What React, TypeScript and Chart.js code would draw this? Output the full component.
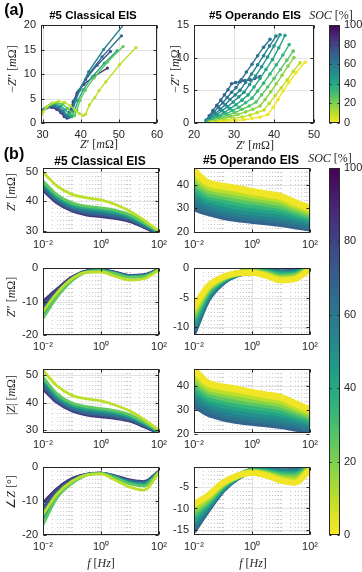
import React, { useEffect, useRef } from "react";
import { Chart, registerables } from "chart.js";

Chart.register(...registerables);

// ---------------- data ----------------
const FREQ_HZ = [0.01, 0.03, 0.1, 0.3, 1, 3, 10, 30, 100];
const FREQ_TICKS = [0.01, 1, 100];
const FREQ_TICK_LABELS = ["10⁻²", "10⁰", "10²"];
const SOC_TICKS = [0, 20, 40, 60, 80, 100];

const CL_NYQ_X_TICKS = [30, 40, 50, 60];
const CL_NYQ_Y_TICKS = [0, 5, 10, 15, 20];
const OP_NYQ_X_TICKS = [20, 30, 40, 50];
const OP_NYQ_Y_TICKS = [0, 5, 10, 15];

// Classical EIS (SOC levels in %)
const CL_SOC = [10, 25, 40, 55, 65, 75, 85];
const CL_NYQ_RE = [
  [29.4, 30.1, 31.2, 32.6, 34.2, 35.8, 37.3, 38.6, 39.7, 40.6, 41.3, 42.3, 43.7, 44.8, 46.6, 50.2, 54.5],
  [29.2, 29.9, 31.0, 32.3, 33.8, 35.3, 36.6, 37.7, 38.4, 39.0, 39.8, 41.2, 43.5, 47.0, 51.1],
  [29.1, 29.7, 30.7, 32.0, 33.4, 34.8, 36.0, 37.0, 37.7, 38.4, 39.3, 40.7, 43.0, 46.2, 49.6],
  [29.0, 29.6, 30.5, 31.7, 33.1, 34.4, 35.5, 36.4, 37.1, 37.8, 38.7, 39.8, 42.1, 46.0, 51.3],
  [29.0, 29.5, 30.4, 31.5, 32.8, 34.1, 35.2, 36.1, 36.8, 37.5, 38.4, 39.6, 41.8, 45.6, 50.7],
  [28.9, 29.4, 30.2, 31.3, 32.6, 33.9, 35.0, 35.9, 36.6, 37.3, 38.2, 39.3, 41.3, 44.3, 47.8],
  [28.9, 29.3, 30.1, 31.1, 32.4, 33.7, 34.8, 35.7, 36.4, 37.1, 38.0, 39.0, 40.8, 43.7, 47.0],
];
const CL_NYQ_IM = [
  [0.8, 2.2, 3.4, 4.1, 4.4, 4.2, 3.5, 2.6, 1.9, 1.5, 1.8, 3.7, 5.2, 6.6, 8.4, 11.9, 15.4],
  [0.8, 2.1, 3.2, 3.9, 4.1, 3.8, 3.0, 2.0, 1.5, 2.6, 4.6, 6.7, 9.2, 12.4, 15.6],
  [0.8, 2.0, 3.0, 3.7, 3.9, 3.5, 2.7, 1.8, 1.3, 2.5, 4.6, 6.8, 9.4, 12.2, 14.8],
  [0.8, 1.9, 2.9, 3.5, 3.7, 3.3, 2.5, 1.6, 1.2, 2.4, 4.6, 6.8, 10.5, 15.0, 20.1],
  [0.9, 1.9, 2.8, 3.3, 3.5, 3.1, 2.3, 1.5, 1.1, 2.4, 4.5, 6.6, 9.6, 13.5, 17.8],
  [0.9, 1.8, 2.7, 3.2, 3.3, 2.9, 2.2, 1.4, 1.1, 2.4, 4.5, 6.4, 8.9, 11.8, 14.6],
  [0.9, 1.8, 2.6, 3.1, 3.2, 2.8, 2.1, 1.3, 1.0, 2.3, 4.3, 6.0, 7.9, 9.6, 11.2],
];
const CL_ZRE = [
  [50.0, 45.3, 42.4, 41.3, 40.5, 39.0, 36.6, 33.6, 29.9],
  [47.0, 42.3, 39.5, 38.4, 37.8, 37.0, 35.4, 32.8, 29.6],
  [46.3, 41.6, 38.8, 37.7, 37.1, 36.3, 34.8, 32.4, 29.4],
  [45.6, 41.0, 38.2, 37.0, 36.4, 35.7, 34.3, 32.0, 29.2],
  [44.9, 40.4, 37.6, 36.3, 35.7, 35.1, 33.8, 31.7, 29.0],
  [44.3, 39.9, 37.1, 35.8, 35.2, 34.6, 33.4, 31.4, 28.9],
  [43.8, 39.5, 36.7, 35.4, 34.8, 34.2, 33.1, 31.1, 28.8],
];
const CL_ZIM = [
  [-13.0, -7.5, -3.2, -1.3, -1.2, -2.4, -3.6, -3.2, -0.6],
  [-15.0, -8.8, -3.8, -1.3, -0.9, -1.7, -2.8, -2.6, -0.5],
  [-14.5, -8.5, -3.6, -1.2, -0.8, -1.6, -2.6, -2.4, -0.5],
  [-13.5, -8.0, -3.4, -1.1, -0.7, -1.5, -2.5, -2.3, -0.4],
  [-12.2, -7.4, -3.1, -1.0, -0.7, -1.4, -2.4, -2.2, -0.4],
  [-11.0, -6.8, -2.9, -0.9, -0.6, -1.3, -2.3, -2.1, -0.3],
  [-10.0, -6.3, -2.7, -0.9, -0.6, -1.2, -2.2, -2.0, -0.3],
];
const CL_ZMAG = [
  [51.7, 46.1, 42.6, 41.4, 40.6, 39.1, 36.9, 33.8, 29.9],
  [49.3, 43.3, 39.8, 38.5, 37.8, 37.0, 35.5, 32.9, 29.6],
  [48.5, 42.5, 39.1, 37.8, 37.1, 36.3, 34.9, 32.5, 29.4],
  [47.5, 41.8, 38.5, 37.1, 36.4, 35.7, 34.4, 32.1, 29.2],
  [46.5, 41.1, 37.8, 36.4, 35.7, 35.1, 33.9, 31.8, 29.0],
  [45.6, 40.5, 37.3, 35.9, 35.2, 34.6, 33.5, 31.5, 28.9],
  [44.9, 40.0, 36.9, 35.5, 34.8, 34.2, 33.2, 31.2, 28.8],
];
const CL_PHASE = [
  [-14.0, -8.0, -4.2, -2.4, -2.0, -3.8, -5.9, -6.8, -1.6],
  [-17.0, -9.2, -4.8, -2.5, -1.9, -3.2, -5.0, -5.6, -1.5],
  [-16.2, -8.8, -4.6, -2.4, -1.9, -3.0, -4.7, -5.2, -1.4],
  [-15.0, -8.3, -4.3, -2.3, -1.8, -2.9, -4.4, -4.9, -1.4],
  [-13.5, -7.6, -4.0, -2.3, -1.8, -2.8, -4.2, -4.6, -1.3],
  [-12.0, -7.0, -3.7, -2.2, -1.8, -2.7, -4.0, -4.4, -1.3],
  [-10.5, -6.4, -3.4, -2.2, -1.8, -2.6, -3.8, -4.3, -1.2],
];

// Operando EIS (SOC levels in %)
const OP_SOC = [2, 10, 18, 26, 34, 42, 50, 56, 62, 68];
const OP_NYQ_RE = [
  [24.6, 26.5, 28.5, 30.5, 32.5, 34.5, 36.5, 38.5, 39.8, 41.0, 42.3, 43.7, 45.5, 47.75],
  [24.3, 26.0, 28.0, 30.0, 32.0, 34.0, 35.8, 37.5, 38.8, 40.3, 41.8, 43.3, 44.8, 46.5],
  [24.0, 25.5, 27.3, 29.2, 31.0, 32.9, 34.7, 36.5, 37.8, 39.2, 40.6, 42.0, 43.5, 45.0],
  [23.8, 25.2, 26.8, 28.5, 30.2, 32.0, 33.8, 35.5, 36.9, 38.4, 40.0, 41.6, 43.2, 44.8],
  [23.6, 24.9, 26.4, 28.0, 29.6, 31.2, 32.9, 34.5, 35.9, 37.4, 39.0, 40.6, 42.2, 43.8],
  [23.4, 24.6, 26.0, 27.5, 29.0, 30.5, 32.0, 33.5, 35.0, 36.5, 38.0, 39.6, 41.2, 42.75],
  [23.3, 24.4, 25.7, 27.0, 28.4, 29.8, 31.2, 32.5, 33.9, 35.4, 36.9, 38.4, 40.0, 41.5],
  [23.2, 24.2, 25.4, 26.6, 27.8, 29.0, 30.3, 31.5, 32.9, 34.4, 35.9, 37.4, 38.9, 40.5],
  [23.1, 24.0, 25.0, 26.1, 27.2, 28.3, 29.4, 30.5, 31.8, 33.1, 34.5, 35.9, 37.4, 39.0],
  [23.0, 23.8, 24.7, 25.7, 26.7, 27.6, 28.5, 29.4, 30.4, 31.5, 32.7, 34.0, 35.2, 36.5],
];
const OP_NYQ_IM = [
  [0.1, 0.2, 0.3, 0.4, 0.5, 0.7, 0.9, 1.3, 2.4, 3.6, 4.9, 6.2, 7.7, 9.3],
  [0.1, 0.3, 0.5, 0.7, 0.9, 1.2, 1.6, 2.0, 3.0, 4.2, 5.4, 6.6, 7.9, 9.2],
  [0.2, 0.4, 0.7, 1.0, 1.3, 1.7, 2.1, 2.6, 3.6, 4.8, 6.0, 7.3, 8.7, 10.0],
  [0.2, 0.5, 0.8, 1.2, 1.6, 2.1, 2.6, 3.2, 4.3, 5.5, 6.8, 8.2, 9.6, 11.0],
  [0.3, 0.6, 1.0, 1.4, 1.9, 2.4, 3.1, 3.8, 4.9, 6.1, 7.5, 8.9, 10.4, 12.0],
  [0.3, 0.7, 1.1, 1.6, 2.2, 2.8, 3.5, 4.3, 5.5, 6.8, 8.2, 9.7, 11.5, 13.4],
  [0.3, 0.8, 1.3, 1.9, 2.5, 3.2, 4.0, 4.7, 5.9, 7.2, 8.6, 10.1, 11.8, 13.5],
  [0.4, 0.9, 1.5, 2.1, 2.8, 3.6, 4.3, 5.0, 6.2, 7.5, 8.9, 10.3, 11.8, 13.3],
  [0.4, 1.0, 1.7, 2.4, 3.1, 3.9, 4.7, 5.4, 6.6, 7.8, 9.0, 10.3, 11.6, 12.8],
  [0.4, 1.1, 1.9, 2.7, 3.5, 4.3, 5.1, 6.0, 6.2, 6.3, 6.5, 6.6, 6.8, 7.1],
];
const OP_ZRE = [
  [46.0, 41.0, 39.5, 38.5, 37.2, 36.2, 35.0, 32.5, 30.0],
  [44.3, 39.6, 38.0, 37.0, 35.8, 34.8, 33.7, 31.4, 29.0],
  [42.6, 38.2, 36.6, 35.5, 34.4, 33.5, 32.4, 30.3, 28.1],
  [40.9, 36.8, 35.2, 34.0, 33.0, 32.2, 31.1, 29.2, 27.2],
  [39.2, 35.4, 33.7, 32.5, 31.5, 30.8, 29.8, 28.1, 26.3],
  [37.4, 34.0, 32.2, 31.0, 30.0, 29.4, 28.5, 27.0, 25.3],
  [35.6, 32.6, 30.7, 29.5, 28.5, 27.9, 27.1, 25.9, 24.4],
  [33.8, 31.2, 29.3, 28.1, 27.2, 26.6, 25.9, 24.8, 23.5],
  [32.0, 29.7, 27.9, 26.8, 26.0, 25.4, 24.7, 23.6, 22.5],
  [30.2, 28.2, 26.6, 25.6, 24.8, 24.2, 23.5, 22.5, 21.5],
];
const OP_ZIM = [
  [-6.6, -3.1, -1.5, -0.9, -0.8, -1.3, -2.1, -1.9, -0.2],
  [-7.1, -3.4, -1.6, -0.9, -0.7, -1.2, -1.9, -1.7, -0.2],
  [-7.6, -3.6, -1.7, -0.9, -0.7, -1.0, -1.7, -1.5, -0.1],
  [-8.1, -3.9, -1.8, -0.9, -0.6, -0.9, -1.5, -1.3, -0.1],
  [-8.6, -4.1, -1.9, -0.9, -0.6, -0.8, -1.3, -1.2, 0.0],
  [-9.1, -4.4, -2.0, -1.0, -0.6, -0.7, -1.1, -1.0, 0.0],
  [-9.6, -4.7, -2.1, -1.0, -0.6, -0.6, -1.0, -0.9, 0.0],
  [-10.0, -4.9, -2.2, -1.0, -0.6, -0.6, -0.9, -0.8, 0.1],
  [-10.4, -5.1, -2.3, -1.1, -0.6, -0.5, -0.8, -0.7, 0.1],
  [-10.8, -5.3, -2.4, -1.1, -0.6, -0.5, -0.7, -0.6, 0.1],
];
const OP_ZMAG = [
  [46.5, 41.1, 39.5, 38.5, 37.2, 36.2, 35.1, 32.6, 30.0],
  [44.9, 39.7, 38.0, 37.0, 35.8, 34.8, 33.8, 31.4, 29.0],
  [43.3, 38.4, 36.6, 35.5, 34.4, 33.5, 32.4, 30.3, 28.1],
  [41.7, 37.0, 35.2, 34.0, 33.0, 32.2, 31.1, 29.2, 27.2],
  [40.1, 35.6, 33.8, 32.5, 31.5, 30.8, 29.8, 28.1, 26.3],
  [38.5, 34.3, 32.3, 31.0, 30.0, 29.4, 28.5, 27.0, 25.3],
  [36.9, 32.9, 30.8, 29.5, 28.5, 27.9, 27.1, 25.9, 24.4],
  [35.3, 31.6, 29.4, 28.1, 27.2, 26.6, 25.9, 24.8, 23.5],
  [33.7, 30.1, 28.0, 26.8, 26.0, 25.4, 24.7, 23.6, 22.5],
  [32.1, 28.7, 26.7, 25.6, 24.8, 24.2, 23.5, 22.5, 21.5],
];
const OP_PHASE = [
  [-9.0, -7.0, -4.0, -2.5, -1.8, -2.4, -3.6, -4.1, -1.0],
  [-9.7, -7.4, -4.2, -2.6, -1.7, -2.2, -3.2, -3.6, -0.9],
  [-10.4, -7.8, -4.4, -2.6, -1.6, -2.0, -2.9, -3.1, -0.8],
  [-11.1, -8.2, -4.6, -2.7, -1.5, -1.8, -2.6, -2.7, -0.7],
  [-11.8, -8.6, -4.8, -2.7, -1.5, -1.7, -2.3, -2.4, -0.6],
  [-12.5, -9.0, -5.0, -2.8, -1.4, -1.5, -2.0, -2.1, -0.6],
  [-13.2, -9.4, -5.2, -2.8, -1.4, -1.4, -1.8, -1.8, -0.5],
  [-13.8, -9.7, -5.4, -2.9, -1.4, -1.3, -1.6, -1.6, -0.5],
  [-14.4, -10.0, -5.5, -2.9, -1.3, -1.2, -1.5, -1.4, -0.4],
  [-15.0, -10.3, -5.7, -3.0, -1.3, -1.2, -1.4, -1.3, -0.4],
];

// ---------------- styling helpers ----------------
const VIRIDIS = ["#440154", "#482878", "#3e4989", "#31688e", "#26828e", "#1f9e89", "#35b779", "#6ece58", "#b5de2b", "#fde725"];
function hexRgb(h: string) {
  return [parseInt(h.slice(1, 3), 16), parseInt(h.slice(3, 5), 16), parseInt(h.slice(5, 7), 16)];
}
function socColor(soc: number) {
  const t = Math.max(0, Math.min(1, 1 - soc / 100)) * (VIRIDIS.length - 1);
  const i = Math.min(Math.floor(t), VIRIDIS.length - 2);
  const f = t - i;
  const a = hexRgb(VIRIDIS[i]);
  const b = hexRgb(VIRIDIS[i + 1]);
  const c = a.map((v, k) => Math.round(v + (b[k] - v) * f));
  return `rgb(${c[0]},${c[1]},${c[2]})`;
}

const AX = "#262626";
const SANS = '"Liberation Sans", Arial, Helvetica, sans-serif';
const SERIF = '"Liberation Serif", "Times New Roman", serif';
const TICK_FONT = { family: SANS, size: 11 };

const PAD_L = 36, PAD_R = 14, PAD_T = 8, PAD_B = 22;

type PanelProps = {
  box: [number, number, number, number];
  xLog: boolean;
  xMin: number; xMax: number; xTicks: number[]; xLabels?: string[];
  yMin: number; yMax: number; yTicks: number[];
  minor: boolean;
  datasets: any[];
};

function crisp(v: number) {
  return Math.round(v) + 0.5;
}

function Panel(p: PanelProps) {
  const ref = useRef<HTMLCanvasElement>(null);
  const [l, t, r, b] = p.box;
  const W = r - l + PAD_L + PAD_R;
  const H = b - t + PAD_T + PAD_B;
  useEffect(() => {
    const plugin = {
      id: "matlabAxes",
      beforeDatasetsDraw(chart: any) {
        const { ctx, chartArea: a, scales } = chart;
        const xs = scales.x, ys = scales.y;
        ctx.save();
        ctx.lineWidth = 1;
        if (p.minor) {
          ctx.setLineDash([1, 3]);
          ctx.strokeStyle = "rgba(0,0,0,0.2)";
          if (p.xLog) {
            for (let e = -2; e < 2; e++) {
              for (let k = 2; k <= 9; k++) {
                const px = crisp(xs.getPixelForValue(k * Math.pow(10, e)));
                ctx.beginPath(); ctx.moveTo(px, a.top); ctx.lineTo(px, a.bottom); ctx.stroke();
              }
              if (e === -1 || e === 1) {
                const px = crisp(xs.getPixelForValue(Math.pow(10, e)));
                ctx.beginPath(); ctx.moveTo(px, a.top); ctx.lineTo(px, a.bottom); ctx.stroke();
              }
            }
          }
          ctx.strokeStyle = "rgba(0,0,0,0.08)";
          const step = (p.yTicks[1] - p.yTicks[0]) / 5;
          for (let v = Math.ceil(p.yMin / step) * step; v <= p.yMax; v += step) {
            const py = crisp(ys.getPixelForValue(v));
            ctx.beginPath(); ctx.moveTo(a.left, py); ctx.lineTo(a.right, py); ctx.stroke();
          }
        }
        ctx.setLineDash([]);
        ctx.strokeStyle = "#e2e2e2";
        p.xTicks.forEach((v) => {
          const px = crisp(xs.getPixelForValue(v));
          ctx.beginPath(); ctx.moveTo(px, a.top); ctx.lineTo(px, a.bottom); ctx.stroke();
        });
        p.yTicks.forEach((v) => {
          const py = crisp(ys.getPixelForValue(v));
          ctx.beginPath(); ctx.moveTo(a.left, py); ctx.lineTo(a.right, py); ctx.stroke();
        });
        ctx.restore();
      },
      afterDatasetsDraw(chart: any) {
        const { ctx, chartArea: a, scales } = chart;
        const xs = scales.x, ys = scales.y;
        ctx.save();
        ctx.strokeStyle = AX;
        ctx.lineWidth = 1;
        const L = crisp(a.left), R = crisp(a.right) - 1, T = crisp(a.top), B = crisp(a.bottom) - 1;
        ctx.strokeRect(L, T, R - L, B - T);
        ctx.beginPath();
        p.xTicks.forEach((v) => {
          const px = crisp(xs.getPixelForValue(v));
          ctx.moveTo(px, B); ctx.lineTo(px, B - 3);
          ctx.moveTo(px, T); ctx.lineTo(px, T + 3);
        });
        p.yTicks.forEach((v) => {
          const py = crisp(ys.getPixelForValue(v));
          ctx.moveTo(L, py); ctx.lineTo(L + 3, py);
          ctx.moveTo(R, py); ctx.lineTo(R - 3, py);
        });
        ctx.stroke();
        ctx.restore();
      },
    };
    const chart = new Chart(ref.current as HTMLCanvasElement, {
      type: "scatter",
      data: { datasets: p.datasets },
      options: {
        animation: false,
        responsive: false,
        maintainAspectRatio: false,
        events: [],
        layout: { padding: { left: 0, right: PAD_R, top: PAD_T, bottom: 0 } },
        plugins: { legend: { display: false }, tooltip: { enabled: false } },
        scales: {
          x: {
            type: p.xLog ? "logarithmic" : "linear",
            min: p.xMin,
            max: p.xMax,
            grid: { display: false, drawTicks: false },
            border: { display: false },
            afterBuildTicks: (s: any) => {
              s.ticks = p.xTicks.map((v) => ({ value: v }));
            },
            afterFit: (s: any) => {
              s.height = PAD_B;
              s.paddingLeft = 0;
              s.paddingRight = 0;
            },
            ticks: {
              autoSkip: false,
              maxRotation: 0,
              minRotation: 0,
              padding: 5,
              color: AX,
              font: TICK_FONT,
              callback: (v: any) => {
                const i = p.xTicks.indexOf(Number(v));
                return p.xLabels && i >= 0 ? p.xLabels[i] : String(v);
              },
            },
          },
          y: {
            type: "linear",
            min: p.yMin,
            max: p.yMax,
            grid: { display: false, drawTicks: false },
            border: { display: false },
            afterBuildTicks: (s: any) => {
              s.ticks = p.yTicks.map((v) => ({ value: v }));
            },
            afterFit: (s: any) => {
              s.width = PAD_L;
              s.paddingTop = 0;
              s.paddingBottom = 0;
            },
            ticks: {
              autoSkip: false,
              padding: 5,
              color: AX,
              font: TICK_FONT,
              callback: (v: any) => String(v),
            },
          },
        },
      },
      plugins: [plugin],
    } as any);
    return () => chart.destroy();
  }, []);
  return (
    <canvas
      ref={ref}
      width={W}
      height={H}
      style={{ position: "absolute", left: l - PAD_L, top: t - PAD_T, width: W, height: H }}
    />
  );
}

const CB_PAD_R = 24, CB_PAD_V = 8;

function ColorBar({ box }: { box: [number, number, number, number] }) {
  const ref = useRef<HTMLCanvasElement>(null);
  const [l, t, r, b] = box;
  const W = r - l + CB_PAD_R;
  const H = b - t + 2 * CB_PAD_V;
  useEffect(() => {
    const plugin = {
      id: "cbar",
      beforeDatasetsDraw(chart: any) {
        const { ctx, chartArea: a, scales } = chart;
        const ys = scales.y;
        ctx.save();
        const g = ctx.createLinearGradient(0, ys.getPixelForValue(0), 0, ys.getPixelForValue(100));
        for (let s = 0; s <= 100; s += 5) g.addColorStop(s / 100, socColor(s));
        ctx.fillStyle = g;
        ctx.fillRect(a.left, a.top, a.right - a.left, a.bottom - a.top);
        ctx.strokeStyle = AX;
        ctx.lineWidth = 1;
        const L = crisp(a.left), R = crisp(a.right) - 1, T = crisp(a.top), B = crisp(a.bottom) - 1;
        ctx.strokeRect(L, T, R - L, B - T);
        ctx.beginPath();
        SOC_TICKS.forEach((v) => {
          const py = crisp(ys.getPixelForValue(v));
          ctx.moveTo(L, py); ctx.lineTo(L + 2, py);
          ctx.moveTo(R, py); ctx.lineTo(R - 2, py);
        });
        ctx.stroke();
        ctx.restore();
      },
    };
    const chart = new Chart(ref.current as HTMLCanvasElement, {
      type: "scatter",
      data: { datasets: [{ data: [] }] },
      options: {
        animation: false,
        responsive: false,
        maintainAspectRatio: false,
        events: [],
        layout: { padding: { left: 0, right: 0, top: CB_PAD_V, bottom: CB_PAD_V } },
        plugins: { legend: { display: false }, tooltip: { enabled: false } },
        scales: {
          x: { display: false, min: 0, max: 1 },
          y: {
            position: "right",
            min: 0,
            max: 100,
            grid: { display: false, drawTicks: false },
            border: { display: false },
            afterBuildTicks: (s: any) => {
              s.ticks = SOC_TICKS.map((v) => ({ value: v }));
            },
            afterFit: (s: any) => {
              s.width = CB_PAD_R;
              s.paddingTop = 0;
              s.paddingBottom = 0;
            },
            ticks: { padding: 4, color: AX, font: TICK_FONT, callback: (v: any) => String(v) },
          },
        },
      },
      plugins: [plugin],
    } as any);
    return () => chart.destroy();
  }, []);
  return (
    <canvas
      ref={ref}
      width={W}
      height={H}
      style={{ position: "absolute", left: l, top: t - CB_PAD_V, width: W, height: H }}
    />
  );
}

function T(props: { x: number; y: number; size: number; bold?: boolean; serif?: boolean; rot?: boolean; color?: string; children: any }) {
  return (
    <div
      style={{
        position: "absolute",
        left: props.x,
        top: props.y,
        transform: `translate(-50%, -50%)${props.rot ? " rotate(-90deg)" : ""}`,
        whiteSpace: "nowrap",
        fontFamily: props.serif ? SERIF : SANS,
        fontSize: props.size,
        fontWeight: props.bold ? 700 : 400,
        color: props.color || AX,
        lineHeight: 1,
      }}
    >
      {props.children}
    </div>
  );
}

function nyqSets(soc: number[], re: number[][], im: number[][], lw: number, pr: number) {
  return soc.map((s, i) => {
    const c = socColor(s);
    return {
      data: re[i].map((x, j) => ({ x, y: im[i][j] })),
      showLine: true,
      borderColor: c,
      backgroundColor: c,
      pointBackgroundColor: c,
      pointBorderWidth: 0,
      pointRadius: pr,
      borderWidth: lw,
      tension: 0,
    };
  });
}

function bodeSets(soc: number[], vals: number[][], lw: number) {
  return soc.map((s, i) => {
    const c = socColor(s);
    return {
      data: FREQ_HZ.map((f, j) => ({ x: f, y: vals[i][j] })),
      showLine: true,
      borderColor: c,
      backgroundColor: c,
      pointRadius: 0,
      borderWidth: lw,
      cubicInterpolationMode: "monotone",
      borderCapStyle: "round",
    };
  });
}

const ZL = (primes: string) => (
  <span>
    <i>Z</i>{primes} [<i>m</i>Ω]
  </span>
);

export default function App() {
  useEffect(() => {
    document.body.style.margin = "0";
  }, []);

  const LX: [number, number] = [43, 159];
  const RX: [number, number] = [194, 310];
  const rows: [number, number][] = [[168, 233], [268, 335], [369, 433], [467, 535]];

  const bodeCommon = { xLog: true, xMin: 0.01, xMax: 100, xTicks: FREQ_TICKS, xLabels: FREQ_TICK_LABELS, minor: true };

  return (
    <div style={{ position: "absolute", left: 0, top: 0, width: 362, height: 572, background: "#fff", overflow: "hidden" }}>
      {/* (a) Nyquist */}
      <Panel
        box={[41, 25, 157, 123]}
        xLog={false} xMin={29.6} xMax={60} xTicks={CL_NYQ_X_TICKS}
        yMin={0} yMax={20} yTicks={CL_NYQ_Y_TICKS} minor={false}
        datasets={nyqSets(CL_SOC, CL_NYQ_RE, CL_NYQ_IM, 1.4, 1.6)}
      />
      <Panel
        box={[194, 25, 314, 123]}
        xLog={false} xMin={20} xMax={50} xTicks={OP_NYQ_X_TICKS}
        yMin={0} yMax={15} yTicks={OP_NYQ_Y_TICKS} minor={false}
        datasets={nyqSets(OP_SOC, OP_NYQ_RE, OP_NYQ_IM, 1.4, 1.8)}
      />
      <ColorBar box={[329, 25, 340, 123]} />

      {/* (b) Bode, classical */}
      <Panel box={[LX[0], rows[0][0], LX[1], rows[0][1]]} {...bodeCommon} yMin={29.2} yMax={51.4} yTicks={[30, 40, 50]} datasets={bodeSets(CL_SOC, CL_ZRE, 2.8)} />
      <Panel box={[LX[0], rows[1][0], LX[1], rows[1][1]]} {...bodeCommon} yMin={-20} yMax={0} yTicks={[-20, -10, 0]} datasets={bodeSets(CL_SOC, CL_ZIM, 2.8)} />
      <Panel box={[LX[0], rows[2][0], LX[1], rows[2][1]]} {...bodeCommon} yMin={28.9} yMax={52.2} yTicks={[30, 40, 50]} datasets={bodeSets(CL_SOC, CL_ZMAG, 2.8)} />
      <Panel box={[LX[0], rows[3][0], LX[1], rows[3][1]]} {...bodeCommon} yMin={-20} yMax={0} yTicks={[-20, -10, 0]} datasets={bodeSets(CL_SOC, CL_PHASE, 2.8)} />

      {/* (b) Bode, operando */}
      <Panel box={[RX[0], rows[0][0], RX[1], rows[0][1]]} {...bodeCommon} yMin={19.4} yMax={47.3} yTicks={[20, 30, 40]} datasets={bodeSets(OP_SOC, OP_ZRE, 7)} />
      <Panel box={[RX[0], rows[1][0], RX[1], rows[1][1]]} {...bodeCommon} yMin={-11.35} yMax={0} yTicks={[-10, -5, 0]} datasets={bodeSets(OP_SOC, OP_ZIM, 6)} />
      <Panel box={[RX[0], rows[2][0], RX[1], rows[2][1]]} {...bodeCommon} yMin={20.4} yMax={46.9} yTicks={[20, 30, 40]} datasets={bodeSets(OP_SOC, OP_ZMAG, 7)} />
      <Panel box={[RX[0], rows[3][0], RX[1], rows[3][1]]} {...bodeCommon} yMin={-16.1} yMax={-0.45} yTicks={[-15, -10, -5]} datasets={bodeSets(OP_SOC, OP_PHASE, 6)} />
      <ColorBar box={[329, 168, 340, 535]} />

      {/* texts */}
      <T x={14} y={10} size={16} bold color="#000">(a)</T>
      <T x={14} y={154} size={16} bold color="#000">(b)</T>

      <T x={93} y={16} size={11.5} bold color="#000">#5 Classical EIS</T>
      <T x={255} y={16} size={11.5} bold color="#000">#5 Operando EIS</T>
      <T x={100} y={161} size={12} bold color="#000">#5 Classical EIS</T>
      <T x={251} y={160} size={12} bold color="#000">#5 Operando EIS</T>

      <T x={12} y={69} size={12} serif rot>
        <span>−<i>Z</i>′′ [<i>m</i>Ω]</span>
      </T>
      <T x={175} y={69} size={12} serif rot>
        <span>−<i>Z</i>′′ [<i>m</i>Ω]</span>
      </T>
      <T x={99} y={144} size={12} serif>{ZL("′")}</T>
      <T x={255} y={145} size={12} serif>{ZL("′")}</T>

      <T x={331} y={15} size={12} serif><span><i>SOC</i> [%]</span></T>
      <T x={330} y={158} size={12} serif><span><i>SOC</i> [%]</span></T>

      <T x={11} y={192} size={12} serif rot>{ZL("′")}</T>
      <T x={11} y={297} size={12} serif rot>{ZL("′′")}</T>
      <T x={11} y={395} size={12} serif rot>
        <span>|<i>Z</i>| [<i>m</i>Ω]</span>
      </T>
      <T x={11} y={492} size={12} serif rot>
        <span>∠<i>Z</i> [°]</span>
      </T>

      <T x={101} y={563} size={12} serif><span><i>f</i> [<i>Hz</i>]</span></T>
      <T x={253} y={563} size={12} serif><span><i>f</i> [<i>Hz</i>]</span></T>
    </div>
  );
}
